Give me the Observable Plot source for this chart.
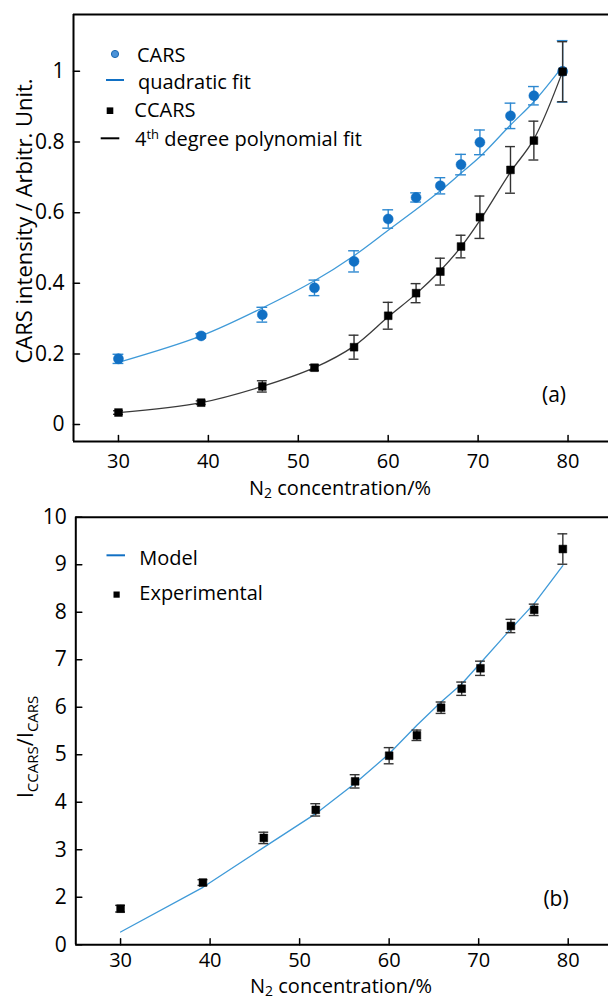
<!DOCTYPE html>
<html>
<head>
<meta charset="utf-8">
<script src="https://cdn.jsdelivr.net/npm/d3@7"></script>
<script src="https://cdn.jsdelivr.net/npm/@observablehq/plot@0.6"></script>
<style>
  html, body { margin: 0; padding: 0; background: #fff; }
  #chart svg { display: block; }
</style>
</head>
<body>
<div id="chart"></div>
<script>
// ---------- data ----------
const n2 = [30, 39.2, 46.0, 51.8, 56.2, 60.0, 63.1, 65.8, 68.1, 70.2, 73.6, 76.2, 79.4];

// panel (a)
const carsVal  = [0.186, 0.251, 0.311, 0.387, 0.462, 0.582, 0.643, 0.676, 0.736, 0.799, 0.874, 0.931, 1.000];
const carsErr  = [0.013, 0.006, 0.021, 0.022, 0.030, 0.026, 0.013, 0.023, 0.029, 0.035, 0.036, 0.026, 0.087];
const carsFit  = [0.176, 0.251, 0.330, 0.407, 0.478, 0.550, 0.609, 0.662, 0.712, 0.758, 0.848, 0.914, 1.014];
const ccarsVal = [0.034, 0.062, 0.108, 0.161, 0.219, 0.308, 0.372, 0.433, 0.504, 0.587, 0.721, 0.804, 0.999];
const ccarsErr = [0.005, 0.005, 0.016, 0.008, 0.034, 0.038, 0.027, 0.038, 0.032, 0.060, 0.066, 0.055, 0.085];
const ccarsFit = [0.034, 0.062, 0.108, 0.161, 0.222, 0.305, 0.370, 0.436, 0.503, 0.578, 0.715, 0.808, 1.000];

// panel (b)
const ratioVal = [1.76, 2.31, 3.25, 3.84, 4.44, 4.98, 5.41, 5.99, 6.39, 6.82, 7.71, 8.05, 9.33];
const ratioErr = [0.07, 0.06, 0.12, 0.13, 0.14, 0.17, 0.11, 0.12, 0.14, 0.15, 0.14, 0.12, 0.32];
const modelVal = [1.27, 2.21, 3.05, 3.76, 4.40, 5.02, 5.62, 6.11, 6.49, 6.93, 7.65, 8.18, 8.98];

// ticks
const xTicks = [30, 40, 50, 60, 70, 80];
const yTicksA = [0, 0.2, 0.4, 0.6, 0.8, 1];
const yTickLabelsA = ["0", "0.2", "0.4", "0.6", "0.8", "1"];
const yTicksB = [1, 2, 3, 4, 5, 6, 7, 8, 9, 10];
const yTickLabelsB = ["0", "2", "3", "4", "5", "6", "7", "8", "9", "10"];

// ---------- styles ----------
const FONT = "'Open Sans', sans-serif";
const FS = 20;
const blueDot = "#1170c4";
const blueLine = "#3f9ad8";
const blueErr = "#2d88d0";
const blackLine = "#3a3a3a";
const blackErr = "#333333";

const xDomain = [25, 84.5];
const yDomainA = [-0.048, 1.161];
const yDomainB = [1, 10];

const rowsA = n2.map((x, i) => ({
  x, cars: carsVal[i], carsE: carsErr[i], carsF: carsFit[i],
  ccars: ccarsVal[i], ccarsE: ccarsErr[i], ccarsF: ccarsFit[i]
}));
const rowsB = n2.map((x, i) => ({x, r: ratioVal[i], e: ratioErr[i], m: modelVal[i]}));

const tickShape = {draw(ctx, l) { ctx.moveTo(0, 0); ctx.lineTo(0, -l); }};

function frameMarks(yDomain, yTicks, yLabels, tickPadX) {
  return [
    Plot.axisX({ticks: xTicks, tickSize: 0, tickPadding: tickPadX, label: null, fontSize: 20, tickFormat: d => String(d)}),
    Plot.axisY({ticks: yTicks, tickSize: 0, tickPadding: 9, label: null, fontSize: 21, tickFormat: d => yLabels[yTicks.indexOf(d)]}),
    Plot.vector(xTicks, {x: d => d, y: yDomain[0], length: 6, rotate: 0, anchor: "start", shape: tickShape, stroke: "#000", strokeWidth: 1.5}),
    Plot.vector(yTicks, {x: xDomain[0], y: d => d, length: 6, rotate: 90, anchor: "start", shape: tickShape, stroke: "#000", strokeWidth: 1.5}),
    Plot.ruleY([yDomain[0], yDomain[1]], {stroke: "#000", strokeWidth: 2}),
    Plot.ruleX([xDomain[0]], {stroke: "#000", strokeWidth: 2})
  ];
}

function errorMarks(rows, x, y, e, color, halfCap, width) {
  return [
    Plot.ruleX(rows, {x, y1: d => d[y] - d[e], y2: d => d[y] + d[e], stroke: color, strokeWidth: width}),
    Plot.ruleY(rows, {y: d => d[y] + d[e], x1: d => d[x] - halfCap, x2: d => d[x] + halfCap, stroke: color, strokeWidth: width}),
    Plot.ruleY(rows, {y: d => d[y] - d[e], x1: d => d[x] - halfCap, x2: d => d[x] + halfCap, stroke: color, strokeWidth: width})
  ];
}

const commonStyle = {fontFamily: FONT, fontSize: FS + "px", color: "#000", background: "#fff", overflow: "visible"};

// ---------- panel (a) ----------
const plotA = Plot.plot({
  width: 608, height: 500,
  marginTop: 14, marginRight: 0, marginBottom: 59, marginLeft: 73,
  style: commonStyle,
  x: {domain: xDomain},
  y: {domain: yDomainA},
  marks: [
    ...frameMarks(yDomainA, yTicksA, yTickLabelsA, 12),
    Plot.line(rowsA, {x: "x", y: "carsF", stroke: blueLine, strokeWidth: 1.3, curve: "catmull-rom"}),
    ...errorMarks(rowsA, "x", "cars", "carsE", blueErr, 0.6, 1.4),
    Plot.dot(rowsA, {x: "x", y: "cars", r: 5, fill: blueDot, stroke: blueDot, strokeWidth: 0.5}),
    Plot.line(rowsA, {x: "x", y: "ccarsF", stroke: blackLine, strokeWidth: 1.3, curve: "catmull-rom"}),
    ...errorMarks(rowsA, "x", "ccars", "ccarsE", blackErr, 0.55, 1.4),
    Plot.dot(rowsA, {x: "x", y: "ccars", r: 4.4, symbol: "square", fill: "#000", stroke: "#000", strokeWidth: 0.5})
  ]
});

// ---------- panel (b) ----------
const plotB = Plot.plot({
  width: 608, height: 500,
  marginTop: 16.7, marginRight: 0, marginBottom: 55.7, marginLeft: 75.3,
  style: commonStyle,
  x: {domain: xDomain},
  y: {domain: yDomainB},
  marks: [
    ...frameMarks(yDomainB, yTicksB, yTickLabelsB, 7.5),
    Plot.line(rowsB, {x: "x", y: "m", stroke: blueLine, strokeWidth: 1.3}),
    ...errorMarks(rowsB, "x", "r", "e", blackErr, 0.55, 1.4),
    Plot.dot(rowsB, {x: "x", y: "r", r: 4.4, symbol: "square", fill: "#000", stroke: "#000", strokeWidth: 0.5})
  ]
});

// ---------- text helpers ----------
function richText(svg, x, y, parts, {anchor = "start", rotate = 0, size = FS, subSize = 15, subShift = 4.5, supSize = 13, supShift = -7} = {}) {
  const t = d3.select(svg).append("text")
    .attr("transform", `translate(${x},${y})` + (rotate ? ` rotate(${rotate})` : ""))
    .attr("text-anchor", anchor)
    .attr("font-family", FONT)
    .attr("font-size", size)
    .attr("fill", "#000");
  let shift = 0;
  for (const [s, k] of parts) {
    const target = k === "sub" ? subShift : k === "sup" ? supShift : 0;
    const fs = k === "sub" ? subSize : k === "sup" ? supSize : size;
    t.append("tspan").attr("dy", target - shift).attr("font-size", fs).text(s);
    shift = target;
  }
  return t;
}

const svgA = plotA;
const svgB = plotB;

// axis titles
richText(svgA, 340, 495, [["N"], ["2", "sub"], [" concentration/%"]], {anchor: "middle", size: 20, subSize: 14, subShift: 3});
richText(svgB, 341, 493, [["N"], ["2", "sub"], [" concentration/%"]], {anchor: "middle", size: 20, subSize: 14, subShift: 2.5});
richText(svgA, 31.5, 221, [["CARS intensity / Arbitr. Unit."]], {anchor: "middle", rotate: -90, size: 22});
richText(svgB, 33.3, 247, [["I"], ["CCARS", "sub"], ["/I"], ["CARS", "sub"]], {anchor: "middle", rotate: -90, size: 22});

// panel letters
richText(svgA, 554, 402, [["(a)"]], {anchor: "middle", size: 21});
richText(svgB, 556, 406, [["(b)"]], {anchor: "middle", size: 21});

// legend (a)
const gA = d3.select(svgA).append("g");
gA.append("circle").attr("cx", 115).attr("cy", 54).attr("r", 3.6).attr("fill", "#4a92d8").attr("stroke", "#1a67b0").attr("stroke-width", 1);
richText(svgA, 137, 61.7, [["CARS"]]);
gA.append("line").attr("x1", 106).attr("x2", 124).attr("y1", 80).attr("y2", 80).attr("stroke", blueDot).attr("stroke-width", 2);
richText(svgA, 138, 89, [["quadratic fit"]]);
gA.append("rect").attr("x", 106.7).attr("y", 107.4).attr("width", 6.6).attr("height", 6.6).attr("fill", "#000");
richText(svgA, 134.3, 117.3, [["CCARS"]]);
gA.append("line").attr("x1", 100.7).attr("x2", 119.3).attr("y1", 138.3).attr("y2", 138.3).attr("stroke", "#000").attr("stroke-width", 2);
richText(svgA, 135, 145.5, [["4"], ["th", "sup"], [" degree polynomial fit"]]);

// legend (b)
const gB = d3.select(svgB).append("g");
gB.append("line").attr("x1", 106.5).attr("x2", 125).attr("y1", 55.3).attr("y2", 55.3).attr("stroke", blueDot).attr("stroke-width", 2);
richText(svgB, 139.3, 65, [["Model"]]);
gB.append("rect").attr("x", 113.5).attr("y", 91.5).attr("width", 6.2).attr("height", 6.2).attr("fill", "#000");
richText(svgB, 139.3, 100, [["Experimental"]]);

document.getElementById("chart").append(svgA, svgB);
</script>
</body>
</html>
